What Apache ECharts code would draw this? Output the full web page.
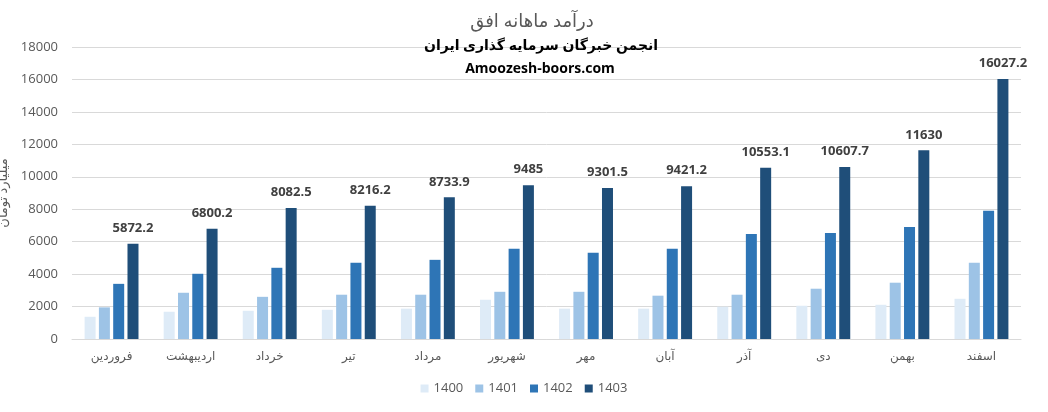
<!DOCTYPE html>
<html><head><meta charset="utf-8">
<script src="https://cdn.jsdelivr.net/npm/echarts@6/dist/echarts.min.js"></script>
<style>html,body{margin:0;padding:0;background:#fff}#c{width:1048px;height:412px}</style>
</head><body><div id="c"></div>
<script>
const categories = ['فروردین','اردیبهشت','خرداد','تیر','مرداد','شهریور','مهر','آبان','آذر','دی','بهمن','اسفند'];
const seriesNames = ['1400','1401','1402','1403'];
const v1400 = [1370,1680,1740,1800,1870,2420,1870,1870,1990,2050,2110,2480];
const v1401 = [1950,2850,2600,2730,2730,2910,2910,2670,2730,3100,3470,4700];
const v1402 = [3400,4020,4390,4700,4880,5560,5310,5560,6480,6540,6910,7900];
const v1403 = [5872.2,6800.2,8082.5,8216.2,8733.9,9485,9301.5,9421.2,10553.1,10607.7,11630,16027.2];
const yTicks = {min:0, max:18000, interval:2000};
const colors = ['#DEEBF7','#9DC3E6','#2E75B6','#1F4E79'];
const values = [v1400, v1401, v1402, v1403];
const font = '"Open Sans","DejaVu Sans",sans-serif';

const chart = echarts.init(document.getElementById('c'));
chart.setOption({
  animation:false,
  backgroundColor:'#fff',
  title:[
    {text:'درآمد ماهانه افق', left:527, top:8, textAlign:'center',
     textStyle:{fontFamily:font, fontSize:18, fontWeight:'normal', color:'#595959'}},
    {text:'انجمن خبرگان سرمایه گذاری ایران', left:536, top:34, textAlign:'center',
     textStyle:{fontFamily:font, fontSize:14, fontWeight:'bold', color:'#000'}},
    {text:'Amoozesh-boors.com', left:535, top:57, textAlign:'center',
     textStyle:{fontFamily:font, fontSize:14, fontWeight:'bold', color:'#000'}}
  ],
  legend:{bottom:12, left:'center', itemWidth:8, itemHeight:8, itemGap:12, icon:'rect',
    textStyle:{fontFamily:font, fontSize:13, color:'#595959'},
    data:seriesNames},
  grid:{left:72, right:27, top:47, bottom:73, containLabel:false, outerBoundsMode:'none'},
  xAxis:{type:'category', data:categories,
    axisLine:{lineStyle:{color:'#D9D9D9'}}, axisTick:{show:false},
    axisLabel:{fontFamily:font, fontSize:12, color:'#595959', margin:12}},
  yAxis:{type:'value', min:yTicks.min, max:yTicks.max, interval:yTicks.interval,
    name:'میلیارد تومان', nameLocation:'middle', nameGap:56, nameRotate:90,
    nameTextStyle:{fontFamily:font, fontSize:13, color:'#595959'},
    axisLine:{show:false}, axisTick:{show:false},
    axisLabel:{fontFamily:font, fontSize:13, color:'#595959', margin:14, formatter:(v)=>String(v)},
    splitLine:{lineStyle:{color:'#D9D9D9'}}},
  series: seriesNames.map((n,i)=>({
    name:n, type:'bar', data:values[i], barWidth:11, barGap:'30%',
    itemStyle:{color:colors[i]},
    label: i===3 ? {show:true, position:'top', distance:9, fontFamily:font, fontSize:13, fontWeight:'bold', color:'#404040'} : {show:false}
  }))
});
</script></body></html>
